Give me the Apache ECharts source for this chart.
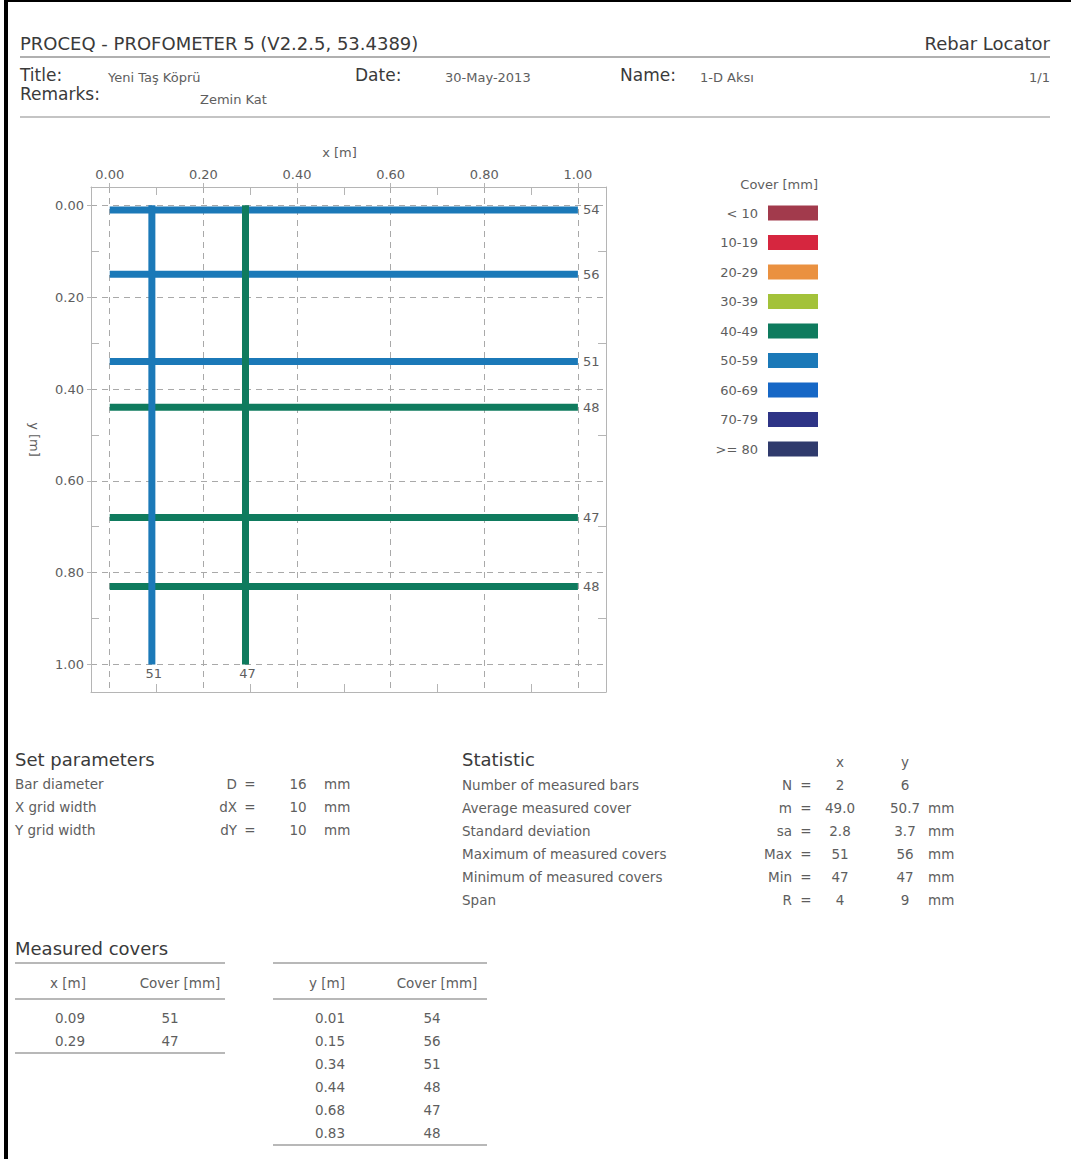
<!DOCTYPE html>
<html>
<head>
<meta charset="utf-8">
<script src="https://cdn.jsdelivr.net/npm/echarts@6/dist/echarts.min.js"></script>
<style>
html,body{margin:0;padding:0;background:#fff;}
#c{width:1071px;height:1159px;}
</style>
</head>
<body>
<div id="c"></div>
<script>
// ---------------- DATA ----------------
const headerTitle = 'PROCEQ - PROFOMETER 5 (V2.2.5, 53.4389)';
const headerRight = 'Rebar Locator';
const infoLabels = ['Title:', 'Date:', 'Name:'];
const infoValues = ['Yeni Taş Köprü', '30-May-2013', '1-D Aksı'];
const pageNumber = '1/1';
const remarksLabel = 'Remarks:';
const remarksValue = 'Zemin Kat';

// bars measured along x (vertical rebars) and along y (horizontal rebars)
const xBarPositions = [0.09, 0.29];
const xBarCovers = [51, 47];
const yBarPositions = [0.01, 0.15, 0.34, 0.44, 0.68, 0.83];
const yBarCovers = [54, 56, 51, 48, 47, 48];
const scanRange = [0, 1];

const majorTicks = [0, 0.2, 0.4, 0.6, 0.8, 1.0];
const minorTicks = [0.1, 0.3, 0.5, 0.7, 0.9];
const axisRange = [-0.04, 1.06];

const coverTitle = 'Cover [mm]';
const coverBounds = [10, 20, 30, 40, 50, 60, 70, 80];
const coverLabels = ['< 10', '10-19', '20-29', '30-39', '40-49', '50-59', '60-69', '70-79', '>= 80'];
const coverColors = ['#a23a4c', '#d6263f', '#ea9140', '#a3c23a', '#0f7b5e', '#1b79b8', '#1667c6', '#2e3486', '#2f3a6c'];

const paramTitle = 'Set parameters';
const paramLabels = ['Bar diameter', 'X grid width', 'Y grid width'];
const paramSymbols = ['D', 'dX', 'dY'];
const paramValues = ['16', '10', '10'];
const paramUnits = ['mm', 'mm', 'mm'];

const statTitle = 'Statistic';
const statColumns = ['x', 'y'];
const statLabels = ['Number of measured bars', 'Average measured cover', 'Standard deviation',
  'Maximum of measured covers', 'Minimum of measured covers', 'Span'];
const statSymbols = ['N', 'm', 'sa', 'Max', 'Min', 'R'];
const statXValues = ['2', '49.0', '2.8', '51', '47', '4'];
const statYValues = ['6', '50.7', '3.7', '56', '47', '9'];
const statUnits = ['', 'mm', 'mm', 'mm', 'mm', 'mm'];

const coversTitle = 'Measured covers';
const xTableHeaders = ['x [m]', 'Cover [mm]'];
const yTableHeaders = ['y [m]', 'Cover [mm]'];

// ---------------- STYLE / LAYOUT ----------------
const FONT = "'DejaVu Sans',sans-serif";
const TXT = '#5e5e5e', DARK = '#3a3a3a', RULE = '#a0a0a0';
const FRAME = '#b5b5b5';
const SMALL = 13.5;

function txt(text, x, y, opt) {
  return {type: 'text', x: x, y: y, silent: true,
    style: Object.assign({text: String(text), fill: TXT, fontSize: SMALL, fontFamily: FONT,
      align: 'left', verticalAlign: 'middle'}, opt || {})};
}
function hline(x1, x2, y, w, c) {
  return {type: 'line', silent: true, shape: {x1: x1, y1: y, x2: x2, y2: y},
    style: {stroke: c || RULE, lineWidth: w || 1.3}};
}

const g = [];
// page border
g.push({type: 'rect', silent: true, shape: {x: 4, y: 0, width: 4, height: 1159}, style: {fill: '#000'}});
g.push({type: 'rect', silent: true, shape: {x: 4, y: 0, width: 1067, height: 2}, style: {fill: '#000'}});
// header
g.push(txt(headerTitle, 20, 43, {fontSize: 18, fill: DARK}));
g.push(txt(headerRight, 1050, 43, {fontSize: 18, fill: DARK, align: 'right'}));
g.push(hline(20, 1050, 57, 2.2, '#b0b0b0'));
const infoLabelX = [20, 355, 620], infoValueX = [108, 445, 700];
infoLabels.forEach((l, i) => {
  g.push(txt(l, infoLabelX[i], 75, {fontSize: 17, fill: DARK}));
  g.push(txt(infoValues[i], infoValueX[i], 77, {fontSize: 13}));
});
g.push(txt(pageNumber, 1050, 77, {fontSize: 13, align: 'right'}));
g.push(txt(remarksLabel, 20, 94, {fontSize: 17, fill: DARK}));
g.push(txt(remarksValue, 200, 99, {fontSize: 13}));
g.push(hline(20, 1050, 117, 1.6, '#b0b0b0'));

// set parameters
g.push(txt(paramTitle, 15, 759, {fontSize: 18, fill: DARK}));
paramLabels.forEach((l, i) => {
  const y = 784 + i * 23;
  g.push(txt(l, 15, y));
  g.push(txt(paramSymbols[i], 237, y, {align: 'right'}));
  g.push(txt('=', 250, y, {align: 'center'}));
  g.push(txt(paramValues[i], 298, y, {align: 'center'}));
  g.push(txt(paramUnits[i], 324, y));
});

// statistic
g.push(txt(statTitle, 462, 759, {fontSize: 18, fill: DARK}));
g.push(txt(statColumns[0], 840, 762, {align: 'center'}));
g.push(txt(statColumns[1], 905, 762, {align: 'center'}));
statLabels.forEach((l, i) => {
  const y = 785 + i * 23;
  g.push(txt(l, 462, y));
  g.push(txt(statSymbols[i], 792, y, {align: 'right'}));
  g.push(txt('=', 806, y, {align: 'center'}));
  g.push(txt(statXValues[i], 840, y, {align: 'center'}));
  g.push(txt(statYValues[i], 905, y, {align: 'center'}));
  if (statUnits[i]) g.push(txt(statUnits[i], 928, y));
});

// measured covers tables
g.push(txt(coversTitle, 15, 948, {fontSize: 18, fill: DARK}));
function table(x1, x2, colCenters, valCenters, headers, pos, covers) {
  g.push(hline(x1, x2, 963));
  g.push(txt(headers[0], colCenters[0], 983, {align: 'center'}));
  g.push(txt(headers[1], colCenters[1], 983, {align: 'center'}));
  g.push(hline(x1, x2, 999));
  pos.forEach((p, i) => {
    const y = 1018 + i * 23;
    g.push(txt(p.toFixed(2), valCenters[0], y, {align: 'center'}));
    g.push(txt(covers[i], valCenters[1], y, {align: 'center'}));
  });
  g.push(hline(x1, x2, 1018 + (pos.length - 1) * 23 + 12));
}
table(15, 225, [68, 180], [70, 170], xTableHeaders, xBarPositions, xBarCovers);
table(273, 487, [327, 437], [330, 432], yTableHeaders, yBarPositions, yBarCovers);

// ---------------- CHART ----------------
const labelStyle = {color: TXT, fontSize: 13, fontFamily: FONT};
const frameLine = {color: FRAME, width: 1};
const dashed = {color: '#a9a9a9', width: 1, type: [6, 5]};
const fmt = v => v.toFixed(2);

function minorAxis(position, showLine, inverse) {
  return {type: 'value', position: position, min: axisRange[0], max: axisRange[1], inverse: !!inverse,
    axisLine: {show: showLine, onZero: false, lineStyle: frameLine},
    axisTick: {show: true, inside: true, length: 8, customValues: minorTicks, lineStyle: frameLine},
    axisLabel: {show: false}, splitLine: {show: false}};
}

function rebarSeries(name, positions, covers, horizontal) {
  return {
    type: 'custom', name: name, coordinateSystem: 'cartesian2d', xAxisIndex: 0, yAxisIndex: 0,
    clip: false, silent: true,
    data: positions.map((p, i) => [p, covers[i]]),
    renderItem: function (params, api) {
      const p = api.value(0), c = api.value(1);
      const color = api.visual('color');
      const a = horizontal ? api.coord([scanRange[0], p]) : api.coord([p, scanRange[0]]);
      const b = horizontal ? api.coord([scanRange[1], p]) : api.coord([p, scanRange[1]]);
      return {type: 'group', children: [
        {type: 'line', shape: {x1: a[0], y1: a[1], x2: b[0], y2: b[1]},
          style: {stroke: color, lineWidth: 7, lineCap: 'butt'}},
        {type: 'text', x: horizontal ? b[0] + 5 : b[0] + 2, y: horizontal ? b[1] : b[1] + 3,
          style: {text: String(c), fill: TXT, fontSize: 13, fontFamily: FONT,
            align: horizontal ? 'left' : 'center', verticalAlign: horizontal ? 'middle' : 'top'}}
      ]};
    }
  };
}

const pieces = coverLabels.map((lab, i) => {
  const p = {label: lab, color: coverColors[i]};
  if (i > 0) p.gte = coverBounds[i - 1];
  if (i < coverBounds.length) p.lt = coverBounds[i];
  return p;
});

const chart = echarts.init(document.getElementById('c'), null, {renderer: 'svg', width: 1071, height: 1159});
chart.setOption({
  animation: false,
  backgroundColor: '#fff',
  grid: {left: 91, top: 187, width: 515, height: 505, containLabel: false, outerBoundsMode: 'none'},
  xAxis: [
    {type: 'value', position: 'top', min: axisRange[0], max: axisRange[1],
      name: 'x [m]', nameLocation: 'middle', nameGap: 28,
      nameTextStyle: Object.assign({padding: [0, 18, 0, 0]}, labelStyle),
      axisLine: {show: true, onZero: false, lineStyle: frameLine},
      axisTick: {show: true, length: 4, customValues: majorTicks, lineStyle: frameLine},
      axisLabel: Object.assign({customValues: majorTicks, formatter: fmt, margin: 6}, labelStyle),
      splitLine: {show: true, lineStyle: dashed}},
    minorAxis('top', false),
    minorAxis('bottom', true)
  ],
  yAxis: [
    {type: 'value', position: 'left', inverse: true, min: axisRange[0], max: axisRange[1],
      name: 'y [m]', nameLocation: 'middle', nameRotate: -90, nameGap: 50, nameTextStyle: labelStyle,
      axisLine: {show: true, onZero: false, lineStyle: frameLine},
      axisTick: {show: true, length: 4, customValues: majorTicks, lineStyle: frameLine},
      axisLabel: Object.assign({customValues: majorTicks, formatter: fmt, margin: 7}, labelStyle),
      splitLine: {show: true, lineStyle: dashed}},
    minorAxis('left', false, true),
    minorAxis('right', true, true)
  ],
  visualMap: {
    type: 'piecewise', dimension: 1, seriesIndex: [0, 1], orient: 'vertical', inverse: true,
    right: 253, top: 178, padding: 0, itemWidth: 50, itemHeight: 15, itemGap: 14.5,
    itemSymbol: 'rect',
    align: 'right', textGap: 10, selectedMode: false, showLabel: true,
    text: ['', coverTitle],
    textStyle: {color: TXT, fontSize: 13, fontFamily: FONT},
    pieces: pieces
  },
  series: [
    rebarSeries('y bars', yBarPositions, yBarCovers, true),
    rebarSeries('x bars', xBarPositions, xBarCovers, false)
  ],
  graphic: g
});
</script>
</body>
</html>
